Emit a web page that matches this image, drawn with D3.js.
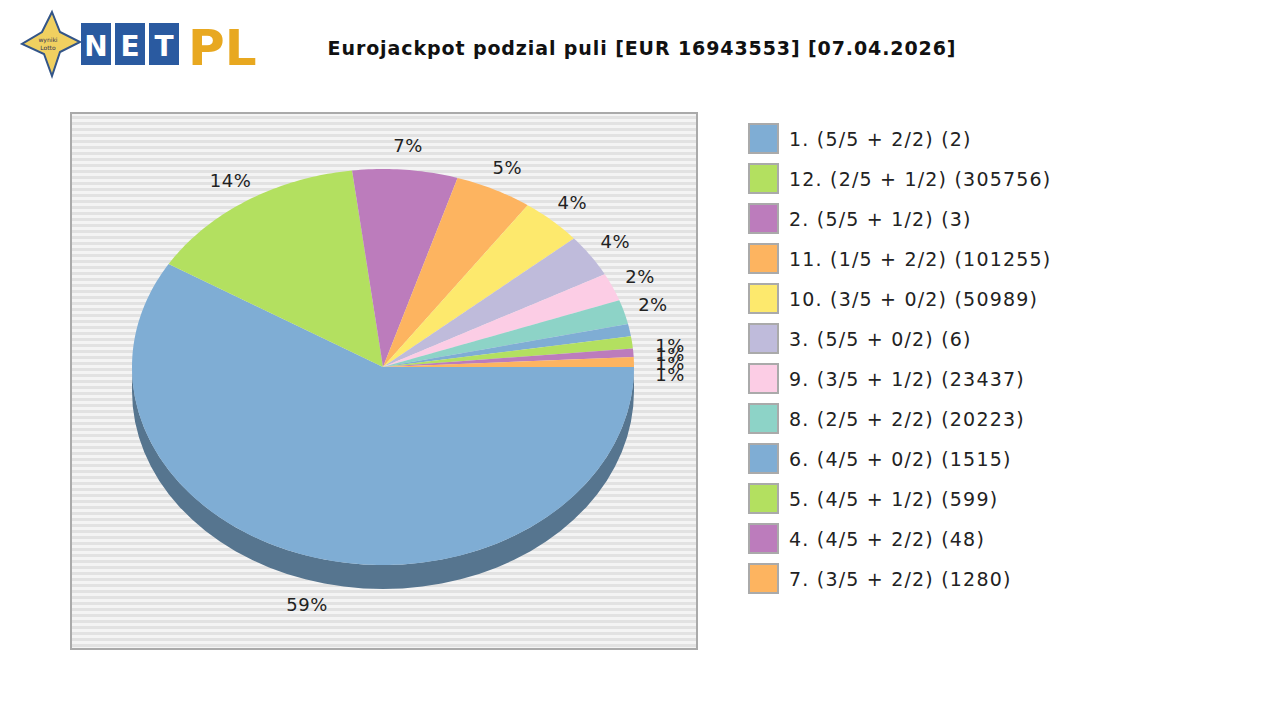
<!DOCTYPE html><html><head><meta charset="utf-8"><script src="https://cdn.jsdelivr.net/npm/d3@7"></script>
<style>body{margin:0;background:#fff}text{font-family:"DejaVu Sans"}</style></head><body><svg id="c" width="1280" height="720"></svg>
<script>
const categories=["1. (5/5 + 2/2) (2)","12. (2/5 + 1/2) (305756)","2. (5/5 + 1/2) (3)","11. (1/5 + 2/2) (101255)","10. (3/5 + 0/2) (50989)","3. (5/5 + 0/2) (6)","9. (3/5 + 1/2) (23437)","8. (2/5 + 2/2) (20223)","6. (4/5 + 0/2) (1515)","5. (4/5 + 1/2) (599)","4. (4/5 + 2/2) (48)","7. (3/5 + 2/2) (1280)"];
const values=[59,14.4,6.8,5,4,3.5,2.3,2,1,1,0.7,0.8];
const labels=["59%","14%","7%","5%","4%","4%","2%","2%","1%","1%","1%","1%"];
const colors=["#7fadd4","#b3e060","#bc7cbc","#fdb460","#fde96d","#bfbbdb","#fccde5","#8dd3c7","#7fadd4","#b3e060","#bc7cbc","#fdb460"];
const svg=d3.select("#c");
const lg=svg.append("g");
lg.append("path").attr("d","M52,12 L60,32 L80,42 L60,52 L52,76 L44,54 L22,44 L42,32 Z").attr("fill","#f0d060").attr("stroke","#335588").attr("stroke-width",2);
lg.append("text").attr("x",48).attr("y",42).attr("font-size",6).attr("text-anchor","middle").attr("fill","#335").text("wyniki");
lg.append("text").attr("x",48).attr("y",50).attr("font-size",6).attr("text-anchor","middle").attr("fill","#335").text("Lotto");
["N","E","T"].forEach((t,i)=>{lg.append("rect").attr("x",81+i*34).attr("y",23).attr("width",30).attr("height",42).attr("fill","#2a5aa0");
lg.append("text").attr("x",96+i*34).attr("y",56).attr("font-size",28).attr("font-weight","bold").attr("fill","#fff").attr("text-anchor","middle").text(t);});
lg.append("text").attr("x",188).attr("y",65).attr("font-size",50).attr("font-weight","bold").attr("fill","#e8a820").text("PL");
svg.append("text").attr("x",642).attr("y",55).attr("text-anchor","middle").attr("font-size",19).attr("letter-spacing",0.9).attr("font-weight","bold").attr("fill","#111").text("Eurojackpot podzial puli [EUR 16943553] [07.04.2026]");
svg.append("rect").attr("x",71).attr("y",113).attr("width",626).attr("height",536).attr("fill","#f4f4f4").attr("stroke","#aaa").attr("stroke-width",2);
const stripes=d3.range(116,648,6);
svg.selectAll(".s").data(stripes).join("rect").attr("x",72).attr("y",d=>d).attr("width",624).attr("height",3).attr("fill","#e2e2e2");
const cx=383,cy=367,rx=251,ry=198,dep=24;
const pie=d3.pie().sort(null).startAngle(0).endAngle(2*Math.PI)(values);
const pt=(a,dy=0)=>[cx+rx*Math.cos(a),cy+ry*Math.sin(a)+dy];
const g=svg.append("g");
pie.forEach((p,i)=>{const a0=Math.max(p.startAngle,0),a1=Math.min(p.endAngle,Math.PI);if(a1<=a0)return;
 const top=d3.range(0,41).map(k=>pt(a0+(a1-a0)*k/40));const bot=top.slice().reverse().map(q=>[q[0],q[1]+dep]);
 g.append("path").attr("d",d3.line()(top.concat(bot))+"Z").attr("fill",d3.color(colors[i]).darker(1.1));});
pie.forEach((p,i)=>{const n=Math.max(4,Math.ceil((p.endAngle-p.startAngle)*60));
 const ptsA=d3.range(0,n+1).map(k=>pt(p.startAngle+(p.endAngle-p.startAngle)*k/n));
 g.append("path").attr("d",d3.line()([[cx,cy]].concat(ptsA))+"Z").attr("fill",colors[i]);});
pie.forEach((p,i)=>{const m=(p.startAngle+p.endAngle)/2;let x=cx+(rx+30)*Math.cos(m),y=cy+(ry+24)*Math.sin(m)+(Math.sin(m)>0?dep:0)+6;
 if(i>=8){x=cx+rx+36;y=[352,361,370,381][i-8];}
 g.append("text").attr("x",x).attr("y",y).attr("text-anchor","middle").attr("font-size",18).attr("letter-spacing",0.5).attr("fill","#222").text(labels[i]);});
const leg=svg.selectAll(".l").data(categories).join("g").attr("transform",(d,i)=>`translate(749,${124+i*40})`);
leg.append("rect").attr("width",29).attr("height",29).attr("fill",(d,i)=>colors[i]).attr("stroke","#aaa").attr("stroke-width",2);
leg.append("text").attr("x",40).attr("y",22).attr("font-size",19).attr("letter-spacing",1.2).attr("fill","#222").text(d=>d);
</script></body></html>
